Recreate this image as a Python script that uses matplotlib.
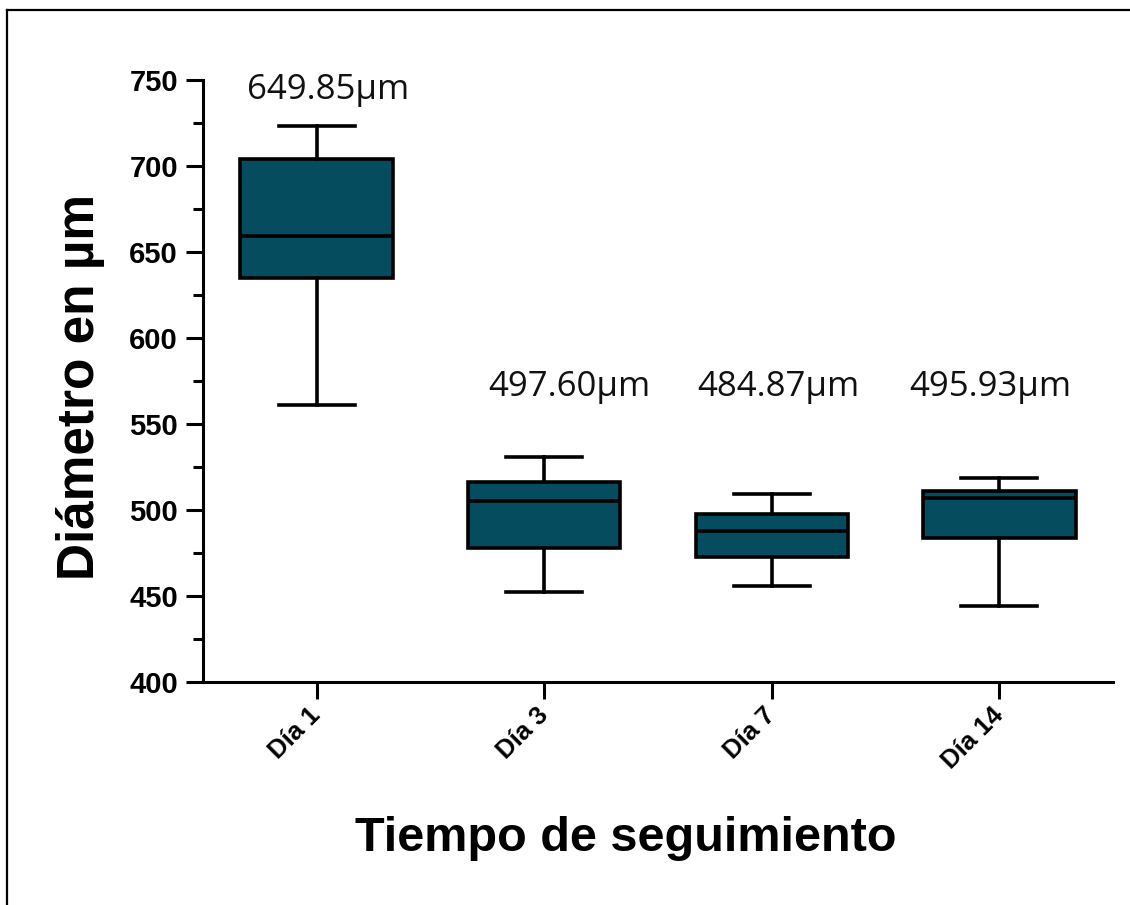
import numpy as np
import matplotlib.pyplot as plt
from matplotlib.lines import Line2D

# data
dias = ['Día 1', 'Día 3', 'Día 7', 'Día 14']
whis_lo = [561.0, 452.5, 456.0, 444.4]
q1 = [634.7, 477.7, 472.5, 483.9]
medianas = [659.5, 505.1, 488.0, 507.2]
q3 = [704.2, 516.1, 497.9, 511.2]
whis_hi = [723.4, 531.0, 509.1, 518.4]
etiquetas = ['649.85µm', '497.60µm', '484.87µm', '495.93µm']

plt.rcParams['font.family'] = ['Liberation Sans', 'DejaVu Sans']

fig = plt.figure(figsize=(11.3, 9.05), dpi=100)
ax = fig.add_axes([0.1796, 0.2464, 0.8054, 0.6652])

stats = []
for i in range(len(dias)):
    stats.append({'whislo': whis_lo[i], 'q1': q1[i], 'med': medianas[i],
                  'q3': q3[i], 'whishi': whis_hi[i], 'fliers': []})

lw = 2.6
ax.bxp(stats, positions=[1, 2, 3, 4], widths=0.67, patch_artist=True,
       showfliers=False,
       boxprops=dict(facecolor='#054d5e', edgecolor='black', linewidth=lw),
       medianprops=dict(color='black', linewidth=lw),
       whiskerprops=dict(color='black', linewidth=lw),
       capprops=dict(color='black', linewidth=lw))

# mean labels above each box
lab_x = [1.05, 2.11, 3.03, 3.96]
lab_y = [744, 571.5, 571.5, 571.5]
for x, y, t in zip(lab_x, lab_y, etiquetas):
    ax.text(x, y, t, ha='center', va='center', fontsize=25,
            family=['Open Sans', 'DejaVu Sans'], color='#111111')

ax.set_xlim(0.5, 4.5)
ax.set_ylim(400, 750)
ax.set_yticks(np.arange(400, 751, 50))
ax.set_yticks(np.arange(425, 750, 50), minor=True)
ax.set_xticks([1, 2, 3, 4])
ax.set_xticklabels(dias, rotation=45, ha='right', va='center',
                   rotation_mode='anchor', fontsize=18.5, fontweight='bold')
for lbl in ax.get_yticklabels():
    lbl.set_fontsize(21)
    lbl.set_fontweight('bold')

ax.spines['top'].set_visible(False)
ax.spines['right'].set_visible(False)
ax.spines['left'].set_linewidth(2.2)
ax.spines['bottom'].set_linewidth(2.2)
ax.tick_params(axis='both', which='major', length=12, width=2.2, pad=6)
ax.tick_params(axis='y', which='minor', length=7, width=2.2)
ax.tick_params(axis='x', pad=9)

ax.set_ylabel('Diámetro en µm', fontsize=37, fontweight='bold')
ax.set_xlabel('Tiempo de seguimiento', fontsize=35, fontweight='bold')
ax.yaxis.set_label_coords(-0.108, 0.49)
ax.xaxis.set_label_coords(0.465, -0.222)

# frame lines at top and left of the picture
fig.add_artist(Line2D([0.0062, 0.0062], [0, 0.989], transform=fig.transFigure,
                      color='black', linewidth=1.6))
fig.add_artist(Line2D([0.0062, 1], [0.989, 0.989], transform=fig.transFigure,
                      color='black', linewidth=1.6))

fig.savefig('out.png', dpi=100)
